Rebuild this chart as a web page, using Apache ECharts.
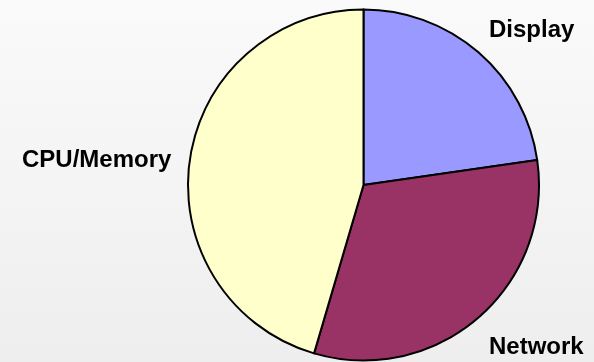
<!DOCTYPE html>
<html>
<head>
<meta charset="utf-8">
<script src="https://cdn.jsdelivr.net/npm/echarts@6/dist/echarts.min.js"></script>
<style>
html,body{margin:0;padding:0;}
#chart{width:594px;height:362px;}
</style>
</head>
<body>
<div id="chart"></div>
<script>
// Data
const categories = ['Display', 'Network', 'CPU/Memory'];
const values = [5, 7, 10];
const colors = ['#9999ff', '#993366', '#ffffcc'];
// Label anchor positions (left x, middle y)
const labelPos = [[489, 30.5], [489, 347], [22, 160]];

const chart = echarts.init(document.getElementById('chart'), null, {renderer: 'canvas'});
chart.setOption({
  backgroundColor: {
    type: 'linear', x: 0, y: 0, x2: 0, y2: 1,
    colorStops: [{offset: 0, color: '#fafafa'}, {offset: 1, color: '#eeeeee'}]
  },
  animation: false,
  series: [{
    type: 'pie',
    center: [363.5, 185],
    radius: 175.5,
    startAngle: 90,
    clockwise: true,
    avoidLabelOverlap: false,
    data: categories.map((c, i) => ({
      name: c, value: values[i],
      itemStyle: {color: colors[i]}
    })),
    itemStyle: {borderColor: '#000000', borderWidth: 2},
    label: {
      show: true,
      position: 'outside',
      formatter: '{b}',
      fontFamily: 'Liberation Sans, Arial, sans-serif',
      fontWeight: 'bold',
      fontSize: 24,
      color: '#000000'
    },
    labelLine: {show: false},
    labelLayout: function (params) {
      const p = labelPos[params.dataIndex];
      return {x: p[0], y: p[1], align: 'left', verticalAlign: 'middle'};
    },
    emphasis: {disabled: true}
  }]
});
</script>
</body>
</html>
